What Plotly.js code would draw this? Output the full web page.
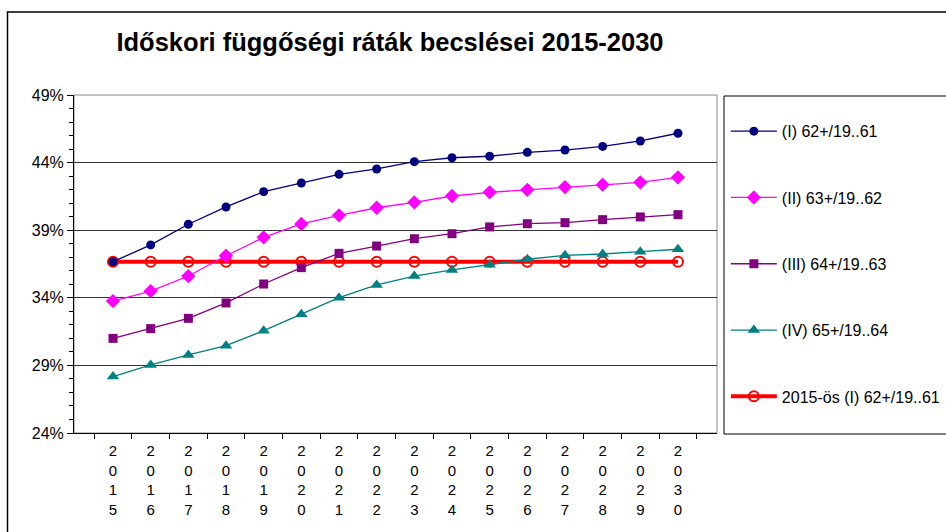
<!DOCTYPE html>
<html><head><meta charset="utf-8">
<script src="https://cdn.plot.ly/plotly-3.0.1.min.js"></script>
<style>html,body{margin:0;padding:0;background:#fff}</style>
</head><body><div id="chart" style="width:946px;height:532px"></div>
<script>
const years = ['2015','2016','2017','2018','2019','2020','2021','2022','2023','2024','2025','2026','2027','2028','2029','2030'];
const names = ['(I) 62+/19..61','(II) 63+/19..62','(III) 64+/19..63','(IV) 65+/19..64','2015-ös (I) 62+/19..61'];
const serI   = [36.67, 37.91, 39.44, 40.72, 41.85, 42.49, 43.13, 43.53, 44.07, 44.36, 44.47, 44.76, 44.93, 45.20, 45.60, 46.17];
const serII  = [33.76, 34.50, 35.61, 37.11, 38.47, 39.46, 40.10, 40.66, 41.06, 41.53, 41.80, 41.99, 42.19, 42.37, 42.54, 42.91];
const serIII = [31.00, 31.72, 32.48, 33.62, 35.02, 36.23, 37.29, 37.83, 38.37, 38.74, 39.24, 39.48, 39.56, 39.78, 39.98, 40.15];
const serIV  = [28.17, 29.03, 29.77, 30.46, 31.57, 32.78, 34.01, 34.95, 35.61, 36.06, 36.45, 36.85, 37.14, 37.24, 37.41, 37.59];
const ser2015 = [36.67, 36.67, 36.67, 36.67, 36.67, 36.67, 36.67, 36.67, 36.67, 36.67, 36.67, 36.67, 36.67, 36.67, 36.67, 36.67];
const yTicks = [24, 29, 34, 39, 44, 49];

const FONT = 'Arial, "Liberation Sans", sans-serif';
const xTickText = years.map(y => y.split('').join('<br>'));

function tr(y, name, color, symbol, size, lw, grp, extra) {
  return Object.assign({
    x: years, y: y, name: name, type: 'scatter', mode: 'lines+markers',
    line: {color: color, width: lw},
    marker: {color: color, symbol: symbol, size: size},
    legendgroup: grp
  }, extra || {});
}

const data = [
  tr(ser2015, names[4], '#FF0000', 'circle-open', 10, 4, 'g5', {marker: {color: '#FF0000', symbol: 'circle-open', size: 10, line: {width: 2, color: '#FF0000'}}, legendrank: 5}),
  tr(serI, names[0], '#000080', 'circle', 9, 1.3, 'g1', {legendrank: 1}),
  tr(serII, names[1], '#FF00FF', 'diamond', 11, 1.3, 'g2', {legendrank: 2}),
  tr(serIII, names[2], '#800080', 'square', 9, 1.3, 'g3', {legendrank: 3}),
  tr(serIV, names[3], '#008080', 'triangle-up', 11, 1.3, 'g4', {legendrank: 4})
];

const layout = {
  width: 946, height: 532,
  margin: {l: 74, r: 229, t: 95, b: 99, autoexpand: false},
  paper_bgcolor: '#fff', plot_bgcolor: '#fff',
  font: {family: FONT, size: 15, color: '#000'},
  title: {text: '<b>Időskori függőségi ráták becslései 2015-2030</b>', font: {family: FONT, size: 25.5, color: '#000'}, x: 390/946, xanchor: 'center', y: 1 - 42/532, yanchor: 'middle'},
  showlegend: true,
  legend: {x: 1.0138, xanchor: 'left', y: 0.943, yanchor: 'top', tracegroupgap: 42.5, traceorder: 'grouped', itemwidth: 46, font: {family: FONT, size: 16, color: '#000'}, bgcolor: 'rgba(0,0,0,0)', borderwidth: 0},
  xaxis: {
    type: 'category', tickvals: years, ticktext: xTickText, tickson: 'boundaries',
    ticks: 'outside', ticklen: 5, tickcolor: '#000', showline: true, linecolor: '#000', linewidth: 1,
    showgrid: false, zeroline: false, tickangle: 0, ticklabelstandoff: 4,
    tickfont: {family: FONT, size: 15, color: '#000'}, fixedrange: true
  },
  yaxis: {
    range: [24, 49], tickvals: yTicks, ticktext: yTicks.map(v => v + '%'),
    ticks: 'outside', ticklen: 6, tickcolor: '#000', showline: true, linecolor: '#000', linewidth: 1,
    showgrid: true, gridcolor: '#333', gridwidth: 1, zeroline: false,
    minor: {dtick: 1, tick0: 24, ticks: 'outside', ticklen: 4, tickcolor: '#000', showgrid: false},
    tickfont: {family: FONT, size: 16, color: '#000'}, fixedrange: true
  },
  shapes: [
    {type: 'rect', xref: 'paper', yref: 'paper', x0: 0, x1: 1, y0: 0, y1: 1, line: {color: '#888', width: 1}, layer: 'below'},
    {type: 'rect', xref: 'paper', yref: 'paper', x0: (724-74)/643, x1: 1.5, y0: (433-434)/338, y1: (433-96)/338, line: {color: '#000', width: 1}},
    {type: 'rect', xref: 'paper', yref: 'paper', x0: (7.5-74)/643, x1: 1.5, y0: -0.5, y1: (433-12)/338, line: {color: '#000', width: 1.5}}
  ]
};

Plotly.newPlot('chart', data, layout, {displayModeBar: false, staticPlot: true});
</script>
</body></html>
